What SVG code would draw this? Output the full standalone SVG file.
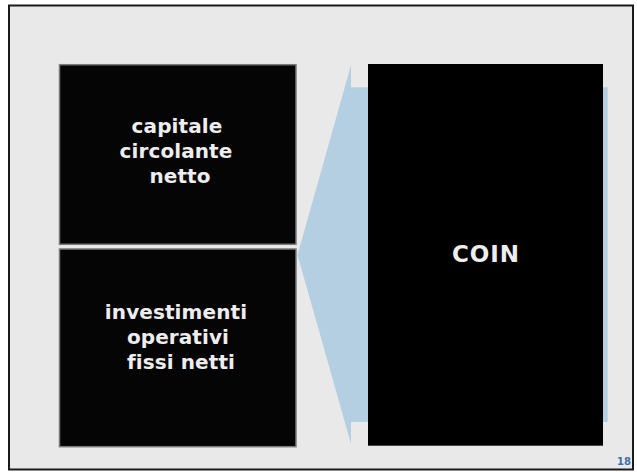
<svg xmlns="http://www.w3.org/2000/svg" width="637" height="472" viewBox="0 0 637 472">
  <style>
    .box { fill: #050505; stroke: #7a7a7a; stroke-width: 1.5; }
    .lbl { font-family: "DejaVu Sans", Verdana, sans-serif; font-weight: bold; fill: #eeeeee; text-anchor: middle; }
    .small { font-size: 20px; letter-spacing: 0.1px; }
    .big { font-size: 23px; letter-spacing: 1px; }
  </style>
  <rect x="0" y="0" width="637" height="472" fill="#ffffff"/>
  <!-- slide frame -->
  <rect x="9" y="5.5" width="624" height="464" fill="#e9e9e9" stroke="#1a1a1a" stroke-width="2"/>

  <!-- connector: left-pointing arrow behind the COIN block -->
  <g id="connectors">
    <polygon points="351,65 351,87.3 607.7,87.3 607.7,422 351,422 351,444 297.5,255" fill="#b5cfe2"/>
  </g>

  <g id="node-ccn">
    <rect class="box" x="59.5" y="64.7" width="236.5" height="179.6"/>
    <text class="lbl small" x="177" y="133">capitale</text>
    <text class="lbl small" x="176" y="158">circolante</text>
    <text class="lbl small" x="180" y="183">netto</text>
  </g>

  <g id="node-iofn">
    <rect class="box" x="59.5" y="249" width="236.5" height="197.7"/>
    <text class="lbl small" x="176" y="319">investimenti</text>
    <text class="lbl small" x="178" y="344">operativi</text>
    <text class="lbl small" x="181" y="369">fissi netti</text>
  </g>

  <g id="node-coin">
    <rect x="368" y="64" width="235" height="381.7" fill="#000000"/>
    <text class="lbl big" x="486" y="262">COIN</text>
  </g>

  <text x="631" y="464.5" font-family="DejaVu Sans, Verdana, sans-serif" font-weight="bold" font-size="10" fill="#3f6fa8" text-anchor="end">18</text>
</svg>
